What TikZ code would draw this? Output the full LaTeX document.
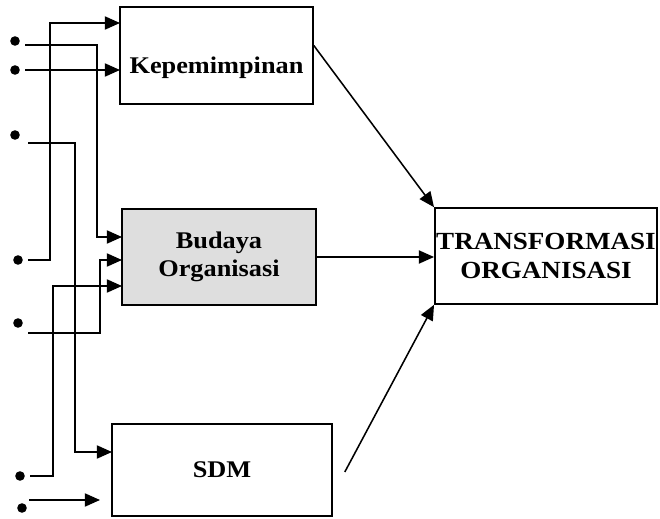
\documentclass[tikz,border=0pt]{standalone}
\usepackage{fontspec}
\setmainfont{Liberation Serif}[FakeStretch=1.1]
\usepackage{tikz}
\usetikzlibrary{arrows.meta}

\tikzset{
  box/.style={draw, line width=1.1pt, rectangle, inner sep=1pt, align=center,
    font=\bfseries\fontsize{17}{20}\selectfont},
  dot/.style={circle, fill=black, inner sep=0pt, minimum size=0.24cm},
  flow/.style={line width=1.1pt, -{Triangle[length=3.8mm,width=3.3mm]}}
}

\begin{document}
\begin{tikzpicture}[x=0.025cm, y=-0.025cm]
\useasboundingbox (0,0) rectangle (660,519);

\node[box, minimum width=4.825cm, minimum height=2.425cm,
  text height=26pt, text depth=0pt] (kep) at (216.5,55.5) {Kepemimpinan};
\node[box, fill=black!13, minimum width=4.85cm, minimum height=2.4cm] (bud) at (219,257) {Budaya\\Organisasi};
\node[box, minimum width=5.5cm, minimum height=2.3cm] (sdm) at (222,470) {SDM};
\node[box, minimum width=5.45cm, minimum height=2.4cm,
  font=\bfseries\fontsize{17.5}{20}\selectfont] (trans) at (546,256) {TRANSFORMASI\\ORGANISASI};

\node[dot] (d1) at (15,41) {};
\node[dot] (d2) at (15,70) {};
\node[dot] (d3) at (15,135) {};
\node[dot] (d4) at (18,260) {};
\node[dot] (d5) at (18,323) {};
\node[dot] (d6) at (20,476) {};
\node[dot] (d7) at (22,508) {};

\coordinate (k1) at (120,23);
\coordinate (k2) at (120,70);
\coordinate (b1) at (122,237);
\coordinate (b2) at (122,260);
\coordinate (b3) at (122,286);
\coordinate (s1) at (112,452);
\coordinate (e7) at (100,500);

\draw[flow] ([shift={(5,4)}]d1.east) -| (97,150) |- (b1);
\draw[flow] ([shift={(5,0)}]d2.east) -- (k2);
\draw[flow] ([shift={(8,8)}]d3.east) -| (75,300) |- (s1);
\draw[flow] ([shift={(5,0)}]d4.east) -| (50,100) |- (k1);
\draw[flow] ([shift={(5,10)}]d5.east) -| (100,300) |- (b2);
\draw[flow] ([shift={(5,0)}]d6.east) -| (53,400) |- (b3);
\draw[flow] ([shift={(2,-8)}]d7.east) -- (e7);

\draw[flow] ([shift={(0,-10)}]kep.east) -- (trans.north west);
\draw[flow] (bud.east) -- (bud.east -| trans.west);
\draw[flow] ([shift={(12,2)}]sdm.east) -- (trans.south west);
\end{tikzpicture}
\end{document}
